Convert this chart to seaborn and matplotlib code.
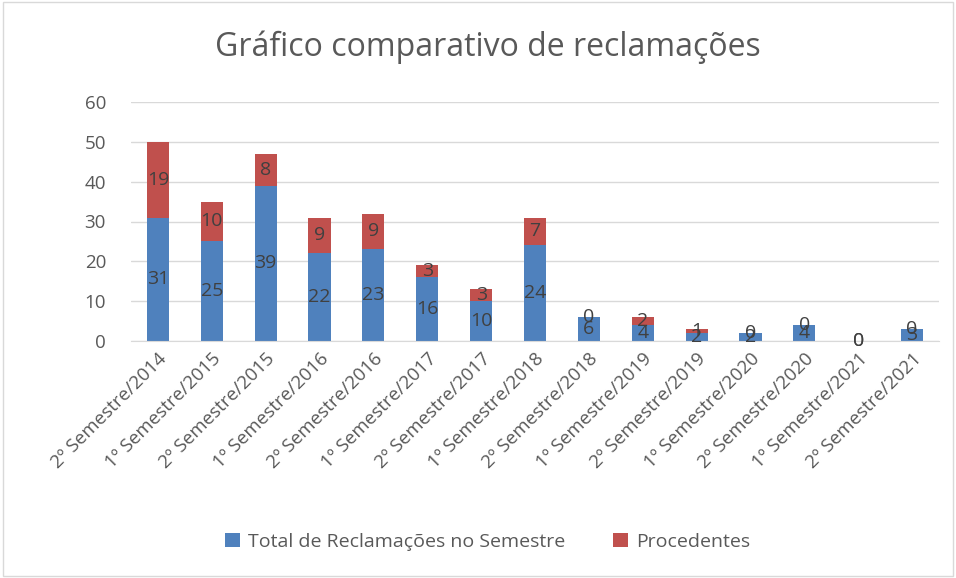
import matplotlib
matplotlib.use("Agg")
import matplotlib.pyplot as plt
import seaborn as sns
import pandas as pd

sns.set_style("white")
plt.rcParams['font.family'] = ['Open Sans', 'DejaVu Sans']

semestres = ["2º Semestre/2014", "1º Semestre/2015", "2º Semestre/2015", "1º Semestre/2016",
             "2º Semestre/2016", "1º Semestre/2017", "2º Semestre/2017", "1º Semestre/2018",
             "2º Semestre/2018", "1º Semestre/2019", "2º Semestre/2019", "1º Semestre/2020",
             "2º Semestre/2020", "1º Semestre/2021", "2º Semestre/2021"]
total = [31, 25, 39, 22, 23, 16, 10, 24, 6, 4, 2, 2, 4, 0, 3]
procedentes = [19, 10, 8, 9, 9, 3, 3, 7, 0, 2, 1, 0, 0, 0, 0]

df = pd.DataFrame({"semestre": semestres, "total": total, "procedentes": procedentes})

blue = "#4F81BD"
red = "#C0504D"

fig = plt.figure(figsize=(9.56, 5.78), dpi=100)
ax = fig.add_axes([131/956, 1 - 341/578, (939 - 131)/956, (341 - 102)/578])

sns.barplot(data=df, x="semestre", y="total", color=blue, width=0.41, linewidth=0,
            saturation=1, ax=ax, label="Total de Reclamações no Semestre")
sns.barplot(data=df, x="semestre", y="procedentes", bottom=df["total"], color=red, width=0.41,
            linewidth=0, saturation=1, ax=ax, label="Procedentes")

# data labels centred in each segment
for i, (t, p) in enumerate(zip(total, procedentes)):
    ax.text(i, t / 2, str(t), ha="center", va="center", fontsize=14, color="#404040")
    ax.text(i, t + p / 2, str(p), ha="center", va="center", fontsize=14, color="#404040")

ax.set_ylim(0, 60)
ax.set_xlim(-0.5, 14.5)
ax.set_yticks(range(0, 61, 10))
ax.yaxis.grid(True, color="#D9D9D9", linewidth=1)
ax.set_axisbelow(True)
for s in ["top", "right", "left"]:
    ax.spines[s].set_visible(False)
ax.spines["bottom"].set_color("#D9D9D9")
ax.set_xlabel("")
ax.set_ylabel("")
ax.tick_params(axis="both", length=0, labelsize=13.5, labelcolor="#595959")
ax.tick_params(axis="y", pad=18)
ax.tick_params(axis="x", pad=6)
ax.set_xticks(range(len(semestres)))
ax.set_xticklabels(semestres, rotation=45, ha="right", rotation_mode="anchor")

fig.text(0.51, 1 - 47/578, "Gráfico comparativo de reclamações", ha="center", va="center",
         fontsize=23, color="#595959")

handles, labels = ax.get_legend_handles_labels()
ax.legend(handles, labels, loc="center", bbox_to_anchor=(0.51, 1 - 542/578), bbox_transform=fig.transFigure,
          ncol=2, frameon=False, fontsize=14, handlelength=0.75, handleheight=0.75,
          columnspacing=2.5, handletextpad=0.4, labelcolor="#595959")

fig.patches.append(plt.Rectangle((0.003, 0.003), 0.994, 0.994, transform=fig.transFigure,
                                 fill=False, edgecolor="#D9D9D9", linewidth=1))

fig.savefig("out.png", dpi=100)
